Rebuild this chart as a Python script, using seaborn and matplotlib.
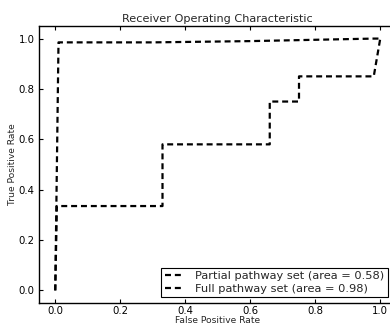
import matplotlib
matplotlib.use("Agg")
import matplotlib.pyplot as plt
import seaborn as sns
import pandas as pd

# ROC curve points for the two pathway sets
partial_fpr = [0.0, 0.005, 0.33, 0.33, 0.66, 0.66, 0.75, 0.75, 0.98, 1.0]
partial_tpr = [0.0, 0.335, 0.335, 0.58, 0.58, 0.75, 0.75, 0.85, 0.85, 1.0]
partial_auc = 0.58

full_fpr = [0.0, 0.01, 0.30, 0.60, 0.98, 1.0]
full_tpr = [0.0, 0.985, 0.985, 0.99, 1.0, 1.0]
full_auc = 0.98

x_ticks = [0.0, 0.2, 0.4, 0.6, 0.8, 1.0]
y_ticks = [0.0, 0.2, 0.4, 0.6, 0.8, 1.0]

sns.set_style("ticks")
plt.rcParams["font.family"] = ["DejaVu Sans"]
plt.rcParams["lines.scale_dashes"] = False

df = pd.concat([
    pd.DataFrame({"fpr": partial_fpr, "tpr": partial_tpr,
                  "set": f"Partial pathway set (area = {partial_auc:.2f})"}),
    pd.DataFrame({"fpr": full_fpr, "tpr": full_tpr,
                  "set": f"Full pathway set (area = {full_auc:.2f})"}),
])

fig = plt.figure(figsize=(3.9, 3.24), dpi=100)
ax = fig.add_axes([39 / 390, 21 / 324, 357.5 / 390, 277 / 324])

dash = (0, (4.3, 2.8))
for name, grp in df.groupby("set", sort=False):
    sns.lineplot(data=grp, x="fpr", y="tpr", sort=False, estimator=None,
                 color="black", linewidth=1.6, dashes=False, ax=ax, label=name)
for line in ax.get_lines():
    line.set_linestyle(dash)

ax.set_xlim(-0.05, 1.05)
ax.set_ylim(-0.05, 1.05)
ax.set_xticks(x_ticks)
ax.set_yticks(y_ticks)
ax.set_xticklabels([f"{t:.1f}" for t in x_ticks])
ax.set_yticklabels([f"{t:.1f}" for t in y_ticks])
ax.tick_params(direction="in", length=3, width=0.8, labelsize=7.3,
               top=True, right=True, colors="black")
ax.tick_params(axis="x", pad=2)
ax.tick_params(axis="y", pad=3)
for sp in ax.spines.values():
    sp.set_visible(True)
    sp.set_linewidth(1.0)
    sp.set_color("black")

ax.set_title("Receiver Operating Characteristic", fontsize=8.1, pad=3)
ax.set_xlabel("False Positive Rate", fontsize=6.6, labelpad=0)
ax.set_ylabel("True Positive Rate", fontsize=6.6, labelpad=1)

leg = ax.legend(loc="lower right", bbox_to_anchor=(388 / 390, 27 / 324),
                bbox_transform=fig.transFigure, borderaxespad=0,
                fontsize=8.2, frameon=True, fancybox=False, framealpha=1,
                edgecolor="black", handlelength=1.5, handletextpad=1.2,
                borderpad=0.3, labelspacing=0.2)
leg.get_frame().set_linewidth(0.8)
for h in leg.get_lines():
    h.set_linestyle(dash)

fig.savefig("out.png", dpi=100)
